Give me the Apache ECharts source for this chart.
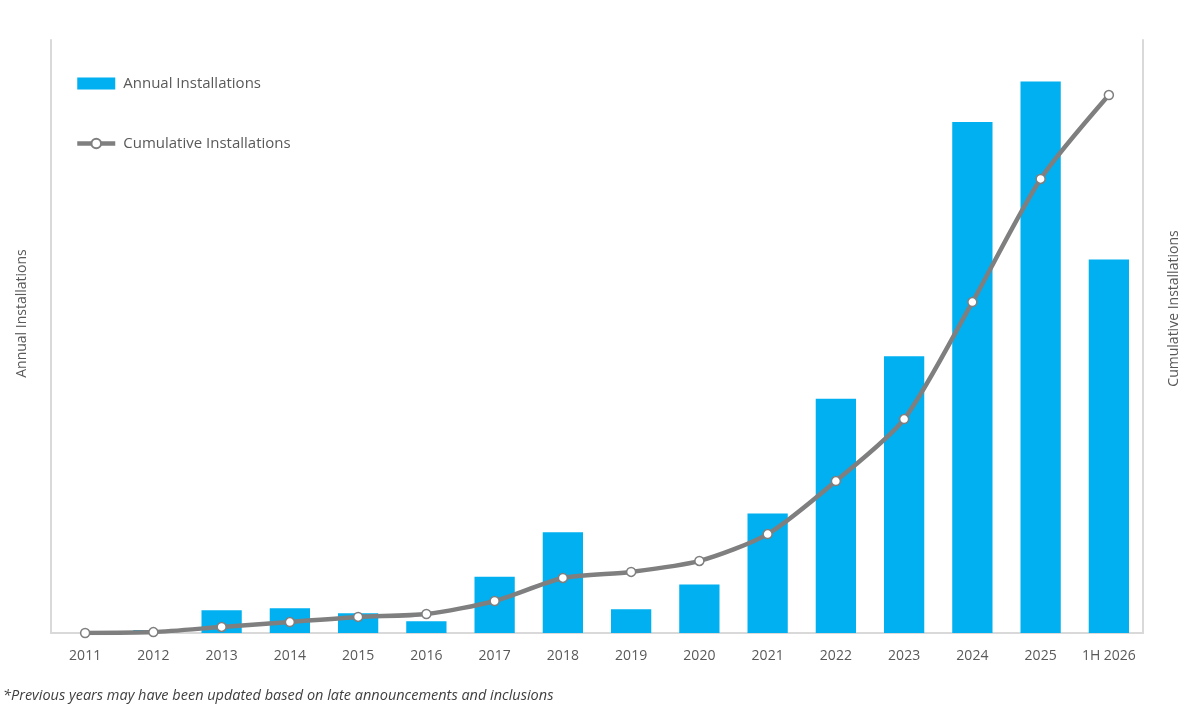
<!doctype html>
<html>
<head>
    <meta charset="utf-8">
    <title>Annual and Cumulative Installations</title>
    <style>
        html, body { margin: 0; padding: 0; background: #fff; }
        #chart { width: 1195px; height: 727px; }
    </style>
</head>
<body>
<div id="chart"></div>
<script src="https://cdn.jsdelivr.net/npm/echarts@6/dist/echarts.min.js"></script>
<script>
    var years = ['2011', '2012', '2013', '2014', '2015', '2016', '2017', '2018',
                 '2019', '2020', '2021', '2022', '2023', '2024', '2025', '1H 2026'];
    // values (axes carry no tick labels)
    var annual = [0, 3, 23, 25, 20, 12, 57, 102, 24, 49, 121, 237, 280, 517, 558, 378];
    var cumulative = [0, 4, 27, 49, 72, 85, 143, 246, 273, 322, 442, 679, 956, 1479, 2029, 2404];
    var annualMax = 600;
    var cumulativeMax = 2650;

    var txt = '#595959';
    var axisGrey = '#d9d9d9';
    var fontName = 'Open Sans';

    var myChart = echarts.init(document.getElementById('chart'));
    var option = {
        backgroundColor: '#ffffff',
        animation: false,
        textStyle: { fontFamily: fontName },
        grid: { left: 51, right: 52, top: 40, bottom: 94 },
        legend: {
            orient: 'vertical',
            left: 70,
            top: 71,
            itemGap: 45,
            itemWidth: 38,
            itemHeight: 12,
            textStyle: { color: txt, fontSize: 15, fontFamily: fontName, padding: [0, 0, 0, 3] },
            data: [
                { name: 'Annual Installations', icon: 'rect' },
                { name: 'Cumulative Installations', lineStyle: { width: 4.5, color: '#7f7f7f' } }
            ]
        },
        xAxis: {
            type: 'category',
            data: years,
            axisLine: { lineStyle: { color: axisGrey, width: 2 } },
            axisTick: { show: false },
            axisLabel: { color: txt, fontSize: 14, margin: 16, interval: 0 }
        },
        yAxis: [
            {
                type: 'value',
                min: 0,
                max: annualMax,
                name: 'Annual Installations',
                nameLocation: 'middle',
                nameRotate: 90,
                nameGap: 22,
                // shift the name up a little, as in the reference
                nameTextStyle: { color: txt, fontSize: 14, padding: [0, 0, 0, 46] },
                axisLine: { show: true, lineStyle: { color: axisGrey, width: 2 } },
                axisTick: { show: false },
                axisLabel: { show: false },
                splitLine: { show: false }
            },
            {
                type: 'value',
                min: 0,
                max: cumulativeMax,
                position: 'right',
                name: 'Cumulative Installations',
                nameLocation: 'middle',
                nameRotate: 90,
                nameGap: 24,
                nameTextStyle: { color: txt, fontSize: 14, padding: [0, 0, 0, 56] },
                axisLine: { show: true, lineStyle: { color: axisGrey, width: 2 } },
                axisTick: { show: false },
                axisLabel: { show: false },
                splitLine: { show: false }
            }
        ],
        series: [
            {
                name: 'Annual Installations',
                type: 'bar',
                yAxisIndex: 0,
                data: annual,
                barWidth: '59%',
                itemStyle: { color: '#00B0F0' }
            },
            {
                name: 'Cumulative Installations',
                type: 'line',
                yAxisIndex: 1,
                data: cumulative,
                smooth: 0.25,
                symbol: 'circle',
                symbolSize: 9,
                lineStyle: { color: '#7f7f7f', width: 4.5 },
                itemStyle: { color: '#ffffff', borderColor: '#7f7f7f', borderWidth: 1.5 }
            }
        ],
        graphic: [
            {
                type: 'text',
                left: 3,
                top: 688,
                style: {
                    text: '*Previous years may have been updated based on late announcements and inclusions',
                    fill: '#404040',
                    font: 'italic 14.5px "Open Sans"'
                }
            }
        ]
    };

    myChart.setOption(option);
</script>
</body>
</html>
